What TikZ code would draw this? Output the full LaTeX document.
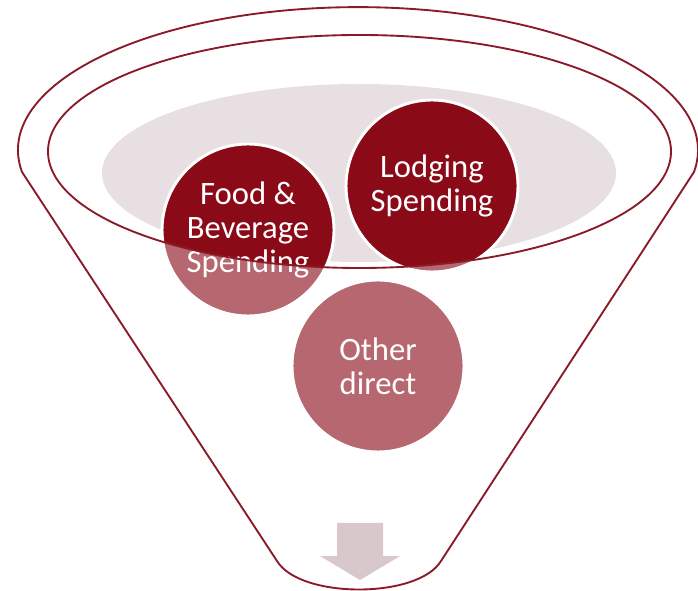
\documentclass[tikz,border=0pt]{standalone}
\usepackage{fontspec}
\setmainfont{Carlito}
\definecolor{funnelred}{RGB}{139, 26, 40}
\definecolor{spendred}{RGB}{138, 10, 24}
\definecolor{rimgray}{RGB}{231, 223, 225}
\definecolor{arrowgray}{RGB}{216, 200, 203}
\tikzstyle{spend} = [circle, fill=spendred, draw=white, line width=2.2pt,
    text=white, minimum size=129pt, inner sep=0pt, align=center,
    font=\fontsize{24.5}{25.5}\selectfont]
\tikzstyle{rim} = [draw=funnelred, line width=1.4pt, line join=round]
\newcommand{\funnelpath}{(22,419) arc[start angle=188.8, end angle=-8.8, x radius=340, y radius=143]
    -- (441,30) .. controls (418,-8) and (300,-8) .. (277,30) -- cycle}

\begin{document}
\begin{tikzpicture}[x=0.75pt, y=0.75pt]
  \useasboundingbox (0,0) rectangle (698,591);
  % inner gray basin
  \fill [rimgray] (359,418) ellipse [x radius=257, y radius=89];
  \node [spend] (food) at (248,361) {Food \&\\Beverage\\Spending};
  \node [spend] (lodging) at (432,405) {Lodging\\Spending};
  \node [spend] (other) at (378,225) {Other\\direct};
  % fade the funnel body below the rim
  \fill [white, fill opacity=0.38, even odd rule] \funnelpath
    (359.5,439.5) ellipse [x radius=311.5, y radius=116.5];
  \path [rim] \funnelpath;
  \path [rim] (359.5,439.5) ellipse [x radius=311.5, y radius=116.5];
  % output arrow
  \fill [arrowgray] (337,68) -- (383,68) -- (383,35) -- (400,35) -- (360,11)
    -- (320,35) -- (337,35) -- cycle;
\end{tikzpicture}
\end{document}
